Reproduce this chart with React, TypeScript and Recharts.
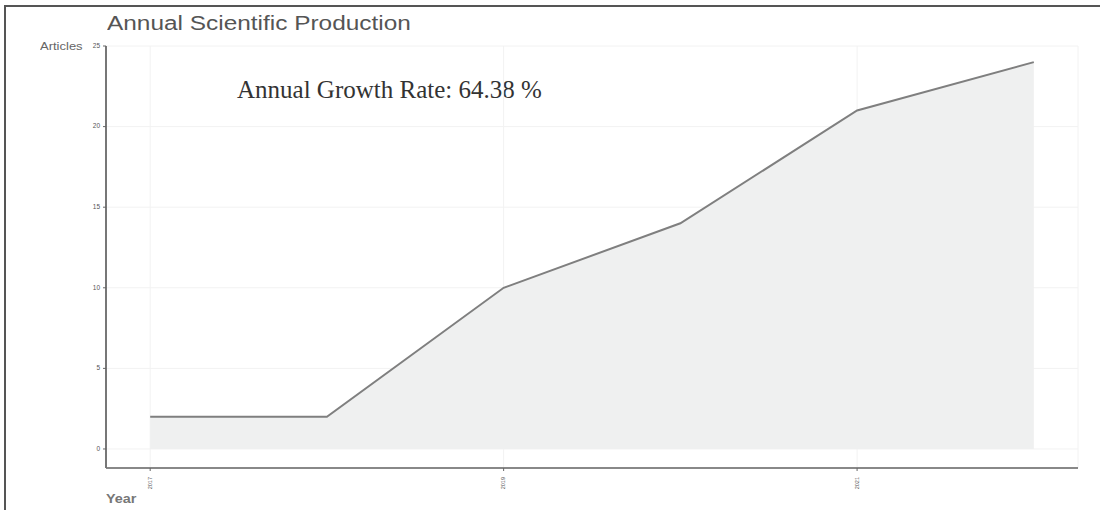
import { Area, AreaChart, CartesianGrid, XAxis, YAxis } from 'recharts'

const years = [2017, 2018, 2019, 2020, 2021, 2022]
const articles = [2, 2, 10, 14, 21, 24]
const yTicks = [0, 5, 10, 15, 20, 25]
const xTicks = [2017, 2019, 2021]

const data = years.map((year, i) => ({ year, articles: articles[i] }))

const XTick = (props: any) => {
    const { x, y, payload } = props
    return (
        <g transform={`translate(${x},${y + 4})`}>
            <text
                transform="rotate(-90)"
                textAnchor="end"
                dominantBaseline="middle"
                fontSize={5.5}
                fill="#555"
                fontFamily="Liberation Sans, Arial, sans-serif"
            >
                {payload.value}
            </text>
        </g>
    )
}

const YTick = (props: any) => {
    const { x, y, payload } = props
    return (
        <text
            x={x - 1}
            y={y}
            textAnchor="end"
            dominantBaseline="middle"
            fontSize={6.5}
            fill="#555"
            fontFamily="Liberation Sans, Arial, sans-serif"
        >
            {payload.value}
        </text>
    )
}

export default function App() {
    return (
        <div
            style={{
                position: 'absolute',
                left: 0,
                top: 0,
                width: 1100,
                height: 510,
                background: '#fff',
                overflow: 'hidden',
            }}
        >
            <div
                style={{
                    position: 'absolute',
                    left: 4,
                    top: 5,
                    width: 1100,
                    height: 510,
                    borderTop: '2px solid #555',
                    borderLeft: '2px solid #555',
                }}
            />
            <div
                style={{
                    position: 'absolute',
                    left: 107,
                    top: 12,
                    fontFamily: 'Liberation Sans, Arial, sans-serif',
                    fontSize: 20,
                    color: '#555',
                    whiteSpace: 'nowrap',
                    transform: 'scaleX(1.22)',
                    transformOrigin: 'left top',
                }}
            >
                Annual Scientific Production
            </div>
            <div
                style={{
                    position: 'absolute',
                    left: 40,
                    top: 41,
                    fontFamily: 'Liberation Sans, Arial, sans-serif',
                    fontSize: 10,
                    color: '#666',
                    whiteSpace: 'nowrap',
                    transform: 'scaleX(1.3)',
                    transformOrigin: 'left top',
                }}
            >
                Articles
            </div>
            <div
                style={{
                    position: 'absolute',
                    left: 106,
                    top: 492,
                    fontFamily: 'Liberation Sans, Arial, sans-serif',
                    fontSize: 12,
                    fontWeight: 'bold',
                    color: '#777',
                    whiteSpace: 'nowrap',
                    transform: 'scaleX(1.2)',
                    transformOrigin: 'left top',
                }}
            >
                Year
            </div>
            <div
                style={{
                    position: 'absolute',
                    left: 237,
                    top: 76,
                    fontFamily: 'Liberation Serif, Times New Roman, serif',
                    fontSize: 25,
                    color: '#333',
                    whiteSpace: 'nowrap',
                }}
            >
                Annual Growth Rate: 64.38 %
            </div>
            <AreaChart
                width={1100}
                height={510}
                data={data}
                margin={{ top: 46, right: 22, bottom: 12, left: 56 }}
                style={{ position: 'absolute', left: 0, top: 0 }}
            >
                <CartesianGrid stroke="#f2f2f2" strokeWidth={1} />
                <XAxis
                    dataKey="year"
                    type="number"
                    domain={[2016.75, 2022.25]}
                    ticks={xTicks}
                    allowDataOverflow
                    height={30}
                    stroke="#888"
                    axisLine={{ stroke: '#888', strokeWidth: 2 }}
                    tickLine={{ stroke: '#666' }}
                    tickSize={3}
                    tick={<XTick />}
                />
                <YAxis
                    type="number"
                    domain={[-1.18, 25]}
                    ticks={yTicks}
                    allowDataOverflow
                    width={50}
                    axisLine={{ stroke: '#777', strokeWidth: 2 }}
                    tickLine={{ stroke: '#666' }}
                    tickSize={3}
                    tick={<YTick />}
                />
                <Area
                    dataKey="articles"
                    type="linear"
                    baseValue={0}
                    stroke="#7f7f7f"
                    strokeWidth={2}
                    fill="#eff0f0"
                    fillOpacity={1}
                    isAnimationActive={false}
                    dot={false}
                    activeDot={false}
                />
            </AreaChart>
        </div>
    )
}
